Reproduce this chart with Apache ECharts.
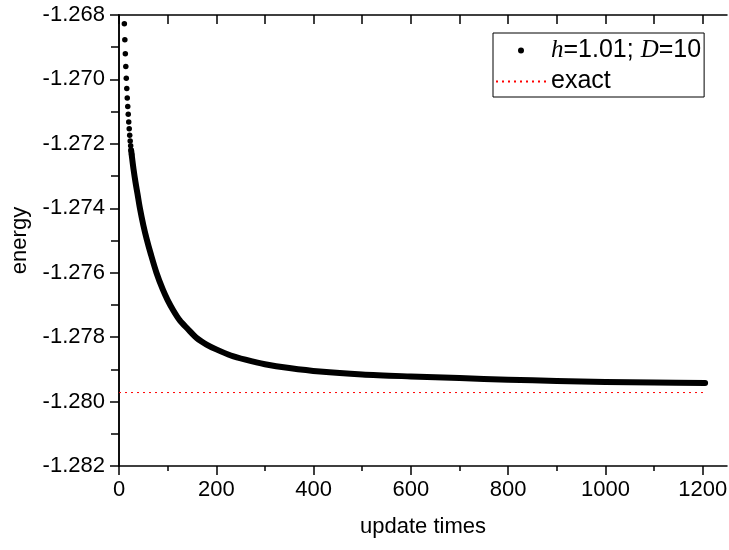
<!DOCTYPE html>
<html>
<head>
<meta charset="utf-8">
<script src="https://cdn.jsdelivr.net/npm/echarts@6/dist/echarts.min.js"></script>
<style>html,body{margin:0;padding:0;background:#fff;}#c{width:729px;height:550px;}</style>
</head>
<body>
<div id="c"></div>
<script>
// ---- data ----
const seriesName = 'h=1.01; D=10';
const exactName = 'exact';
// early, well separated points (update index, energy)
const dotX = [11, 12, 13, 14, 15, 16, 17, 18, 19, 20, 21, 22, 23, 24, 25, 26];
const dotY = [-1.26827, -1.26877, -1.26920, -1.26960, -1.26996, -1.27028, -1.27058,
              -1.27084, -1.27108, -1.27132, -1.27153, -1.27173, -1.27191, -1.27206,
              -1.27220, -1.27233];
// dense part, where the dots merge into a thick band
const bandX = [25, 27, 30, 34, 38, 43, 50, 57, 65, 77, 90, 100, 112, 125, 141, 160, 180,
               200, 230, 260, 300, 350, 413, 500, 600, 700, 800, 900, 1000, 1100, 1205];
const bandY = [-1.27220, -1.27245, -1.27280, -1.27320, -1.27355, -1.27400, -1.27452,
               -1.27496, -1.27540, -1.27600, -1.27652, -1.27685, -1.27718, -1.27748,
               -1.27774, -1.27803, -1.27823, -1.27838, -1.27857, -1.27870, -1.27884,
               -1.27896, -1.27907, -1.27916, -1.27922, -1.27927, -1.27932, -1.27936,
               -1.27939, -1.27941, -1.27942];
const exactX = [0, 1205];
const exactY = [-1.27972, -1.27972];

// ---- axis ticks ----
const xMajor = [0, 200, 400, 600, 800, 1000, 1200];
const xMinor = [100, 300, 500, 700, 900, 1100];
const xTop = [0, 100, 200, 300, 400, 500, 600, 700, 800, 900, 1000, 1100, 1200];
const yMajor = [-1.282, -1.280, -1.278, -1.276, -1.274, -1.272, -1.270, -1.268];
const yMinor = [-1.281, -1.279, -1.277, -1.275, -1.273, -1.271, -1.269];
const yRight = [-1.282, -1.281, -1.280, -1.279, -1.278, -1.277, -1.276, -1.275,
                -1.274, -1.273, -1.272, -1.271, -1.270, -1.269, -1.268];
const xName = 'update times';
const yName = 'energy';

const pair = (xs, ys) => xs.map((x, i) => [x, ys[i]]);
const FONT = 'Liberation Sans';
const lineStyle = {color: '#000', width: 1.5};

const chart = echarts.init(document.getElementById('c'), null, {renderer: 'canvas'});
chart.setOption({
  animation: false,
  backgroundColor: '#fff',
  grid: {left: 119, top: 15, right: 2, bottom: 84, containLabel: false, outerBoundsMode: 'none'},
  xAxis: [
    {type: 'value', position: 'bottom', min: 0, max: 1250,
     name: xName, nameLocation: 'middle', nameGap: 50,
     nameTextStyle: {fontFamily: FONT, fontSize: 22, color: '#000'},
     axisLine: {lineStyle: lineStyle},
     axisTick: {customValues: xMajor, length: 9, inside: false, lineStyle: lineStyle},
     axisLabel: {customValues: xMajor, fontFamily: FONT, fontSize: 22, color: '#000', margin: 13,
                 formatter: v => String(v)},
     splitLine: {show: false}},
    {type: 'value', position: 'bottom', min: 0, max: 1250,
     axisLine: {show: false},
     axisTick: {customValues: xMinor, length: 5, inside: false, lineStyle: lineStyle},
     axisLabel: {show: false}, splitLine: {show: false}},
    {type: 'value', position: 'top', min: 0, max: 1250,
     axisLine: {lineStyle: lineStyle},
     axisTick: {customValues: xTop, length: 9, inside: true, lineStyle: lineStyle},
     axisLabel: {show: false}, splitLine: {show: false}}
  ],
  yAxis: [
    {type: 'value', position: 'left', min: -1.282, max: -1.268,
     name: yName, nameLocation: 'middle', nameGap: 88, nameRotate: 90,
     nameTextStyle: {fontFamily: FONT, fontSize: 22, color: '#000'},
     axisLine: {lineStyle: lineStyle},
     axisTick: {customValues: yMajor, length: 9, inside: false, lineStyle: lineStyle},
     axisLabel: {customValues: yMajor, fontFamily: FONT, fontSize: 22, color: '#000', margin: 14,
                 formatter: v => v.toFixed(3)},
     splitLine: {show: false}},
    {type: 'value', position: 'left', min: -1.282, max: -1.268,
     axisLine: {show: false},
     axisTick: {customValues: yMinor, length: 5, inside: false, lineStyle: lineStyle},
     axisLabel: {show: false}, splitLine: {show: false}},
    {type: 'value', position: 'right', min: -1.282, max: -1.268,
     axisLine: {lineStyle: lineStyle},
     axisTick: {customValues: yRight, length: 8, inside: true, lineStyle: lineStyle},
     axisLabel: {show: false}, splitLine: {show: false}}
  ],
  legend: {
    left: 493, top: 33, orient: 'vertical',
    padding: [5, 3, 3, 2], itemGap: 6,
    itemWidth: 50, itemHeight: 6,
    borderColor: '#000', borderWidth: 1, borderRadius: 0,
    data: [{name: seriesName, icon: 'circle'},
           {name: exactName, itemStyle: {color: 'rgba(0,0,0,0)', borderWidth: 0, opacity: 0}}],
    formatter: name => name === seriesName ? '{i|h}=1.01; {i|D}=10' : name,
    textStyle: {fontFamily: FONT, fontSize: 25, lineHeight: 24, color: '#000',
      rich: {i: {fontFamily: 'Liberation Serif', fontStyle: 'italic', fontSize: 25, lineHeight: 24, color: '#000'}}}
  },
  series: [
    {name: seriesName, type: 'scatter', xAxisIndex: 0, yAxisIndex: 0,
     data: pair(dotX, dotY), symbol: 'circle', symbolSize: 5.5,
     itemStyle: {color: '#000', opacity: 1}, z: 3},
    {name: seriesName, type: 'line', xAxisIndex: 0, yAxisIndex: 0,
     data: pair(bandX, bandY), showSymbol: false, symbol: 'none', smooth: 0.3,
     lineStyle: {color: '#000', width: 6, cap: 'round', join: 'round'},
     itemStyle: {color: '#000'}, z: 3},
    {name: exactName, type: 'line', xAxisIndex: 0, yAxisIndex: 0,
     data: pair(exactX, exactY), showSymbol: false, symbol: 'none',
     lineStyle: {color: '#ff0000', width: 1, type: [2, 4]},
     itemStyle: {color: '#ff0000'}, z: 2}
  ]
});
</script>
</body>
</html>
